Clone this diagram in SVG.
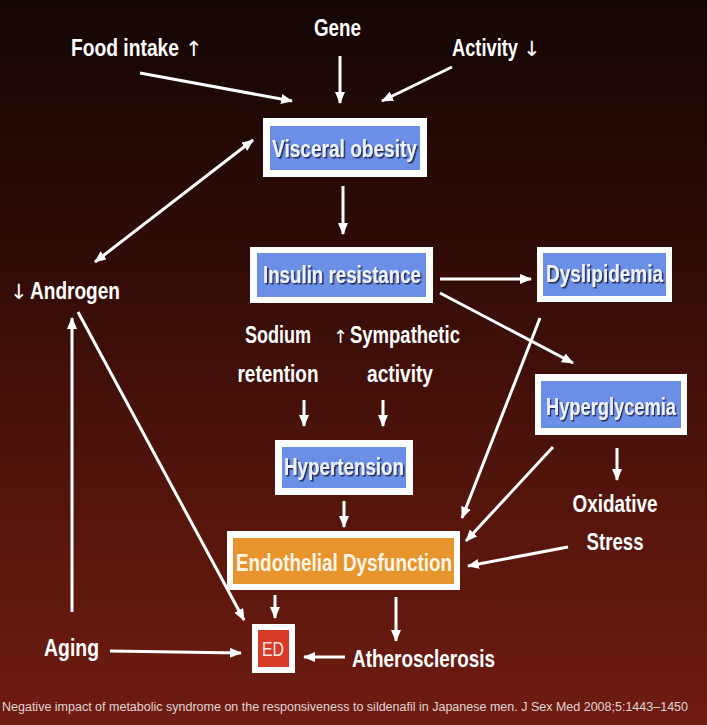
<svg xmlns="http://www.w3.org/2000/svg" width="707" height="725" viewBox="0 0 707 725">
<defs>
<linearGradient id="bg" x1="0" y1="0" x2="0" y2="1">
<stop offset="0" stop-color="#140604"/>
<stop offset="0.35" stop-color="#300b07"/>
<stop offset="0.7" stop-color="#55150b"/>
<stop offset="1" stop-color="#701c12"/>
</linearGradient>
<marker id="ah" viewBox="0 0 12 10" refX="11" refY="5" markerWidth="12" markerHeight="10" markerUnits="userSpaceOnUse" orient="auto-start-reverse">
<path d="M0,0 L12,5 L0,10 Z" fill="#ffffff"/>
</marker>
<filter id="sh" x="-10%" y="-30%" width="120%" height="160%">
<feDropShadow dx="1.5" dy="1.5" stdDeviation="0.5" flood-color="#1a1a40" flood-opacity="0.9"/>
</filter>
</defs>
<style>
.t{font-family:'Liberation Sans Narrow','Liberation Sans',Arial,sans-serif;font-weight:bold;font-size:24px;fill:#ffffff;}
.bt{font-family:'Liberation Sans Narrow','Liberation Sans',Arial,sans-serif;font-weight:bold;font-size:23px;fill:#eef2ff;filter:url(#sh);}
.ar{font-family:'DejaVu Sans',sans-serif;font-weight:normal;font-size:21px;fill:#ffffff;}
.outer{fill:#ffffff;}
.blue{fill:#6b8fe6;}
.orange{fill:#e8942c;}
.red{fill:#d83a28;}
.c{stroke:#ffffff;stroke-width:3;fill:none;marker-end:url(#ah);}
.cite{font-family:'Liberation Sans Narrow','Liberation Sans',Arial,sans-serif;font-size:12.5px;fill:#e0d6d4;}
</style>
<rect x="0" y="0" width="707" height="725" fill="url(#bg)"/>

<g id="connectors">
<line class="c" x1="140" y1="73" x2="292" y2="101"/>
<line class="c" x1="340" y1="56" x2="340" y2="103"/>
<line class="c" x1="452" y1="67" x2="382" y2="101"/>
<line class="c" x1="343" y1="186" x2="343" y2="234"/>
<line class="c" x1="95" y1="262" x2="253" y2="140" style="marker-start:url(#ah)"/>
<line class="c" x1="78" y1="312" x2="244" y2="620"/>
<line class="c" x1="72" y1="612" x2="72" y2="318"/>
<line class="c" x1="110" y1="651" x2="241" y2="653"/>
<line class="c" x1="345" y1="657" x2="304" y2="657"/>
<line class="c" x1="396" y1="597" x2="396" y2="641"/>
<line class="c" x1="275" y1="595" x2="275" y2="618"/>
<line class="c" x1="440" y1="279" x2="531" y2="279"/>
<line class="c" x1="440" y1="293" x2="573" y2="363"/>
<line class="c" x1="540" y1="318" x2="462" y2="518"/>
<line class="c" x1="553" y1="447" x2="466" y2="541"/>
<line class="c" x1="568" y1="547" x2="468" y2="566"/>
<line class="c" x1="617" y1="448" x2="617" y2="480"/>
<line class="c" x1="304" y1="400" x2="304" y2="426"/>
<line class="c" x1="383" y1="400" x2="383" y2="426"/>
<line class="c" x1="344" y1="501" x2="344" y2="527"/>
</g>

<g id="food">
<text class="t" transform="translate(71,56) scale(0.8,1)" x="0" y="0" textLength="135" lengthAdjust="spacingAndGlyphs">Food intake</text>
<text class="ar" x="185" y="56">↑</text>
</g>
<g id="gene"><text class="t" x="314" y="36" textLength="47" lengthAdjust="spacingAndGlyphs">Gene</text></g>
<g id="activity">
<text class="t" transform="translate(452,56) scale(0.7586,1)" x="0" y="0" textLength="87" lengthAdjust="spacingAndGlyphs">Activity</text>
<text class="ar" x="523" y="56">↓</text>
</g>

<g id="visceral">
<rect class="outer" x="263" y="118" width="164" height="59"/>
<rect class="blue" x="270" y="126" width="150" height="44"/>
<text class="bt" x="272" y="157" textLength="145" lengthAdjust="spacingAndGlyphs">Visceral obesity</text>
</g>

<g id="insulin">
<rect class="outer" x="250" y="247" width="183" height="56"/>
<rect class="blue" x="257" y="253" width="169" height="44"/>
<text class="bt" x="263" y="283" textLength="158" lengthAdjust="spacingAndGlyphs">Insulin resistance</text>
</g>

<g id="dyslipidemia">
<rect class="outer" x="537" y="247" width="135" height="55"/>
<rect class="blue" x="543" y="253" width="123" height="43"/>
<text class="bt" x="546" y="282" textLength="117" lengthAdjust="spacingAndGlyphs">Dyslipidemia</text>
</g>

<g id="androgen">
<text class="ar" x="10" y="299">↓</text>
<text class="t" x="30" y="299" textLength="90" lengthAdjust="spacingAndGlyphs">Androgen</text>
</g>

<g id="sodium">
<text class="t" x="278" y="343" text-anchor="middle" textLength="66" lengthAdjust="spacingAndGlyphs">Sodium</text>
<text class="t" x="278" y="382" text-anchor="middle" textLength="81" lengthAdjust="spacingAndGlyphs">retention</text>
</g>

<g id="sympathetic">
<text class="ar" x="333" y="343" style="font-size:18px">↑</text>
<text class="t" transform="translate(350,343) scale(0.771,1)" x="0" y="0" textLength="142.6" lengthAdjust="spacingAndGlyphs">Sympathetic</text>
<text class="t" x="400" y="382" text-anchor="middle" textLength="66" lengthAdjust="spacingAndGlyphs">activity</text>
</g>

<g id="hyperglycemia">
<rect class="outer" x="535" y="374" width="152" height="61"/>
<rect class="blue" x="541" y="381" width="140" height="47"/>
<text class="bt" transform="translate(546,415) scale(0.7956,1)" x="0" y="0" textLength="163.4" lengthAdjust="spacingAndGlyphs">Hyperglycemia</text>
</g>

<g id="hypertension">
<rect class="outer" x="275" y="440" width="138" height="55"/>
<rect class="blue" x="282" y="447" width="124" height="41"/>
<text class="bt" x="284" y="475" textLength="120" lengthAdjust="spacingAndGlyphs">Hypertension</text>
</g>

<g id="oxidative">
<text class="t" x="615" y="512" text-anchor="middle" textLength="85" lengthAdjust="spacingAndGlyphs">Oxidative</text>
<text class="t" x="615" y="550" text-anchor="middle" textLength="57" lengthAdjust="spacingAndGlyphs">Stress</text>
</g>

<g id="endothelial">
<rect class="outer" x="227" y="531" width="233" height="59"/>
<rect class="orange" x="233" y="538" width="221" height="46"/>
<text class="t" x="236" y="571" textLength="216" lengthAdjust="spacingAndGlyphs" style="font-size:23px;fill:#fff6e8">Endothelial Dysfunction</text>
</g>

<g id="ed">
<rect class="outer" x="252" y="624" width="43" height="49"/>
<rect class="red" x="258" y="630" width="31" height="37"/>
<text class="t" x="273" y="656" text-anchor="middle" textLength="22" lengthAdjust="spacingAndGlyphs" style="font-weight:normal;font-size:21px;fill:#f5e6e0">ED</text>
</g>

<g id="aging"><text class="t" x="44" y="656" textLength="55" lengthAdjust="spacingAndGlyphs">Aging</text></g>
<g id="atherosclerosis"><text class="t" x="352" y="667" textLength="143" lengthAdjust="spacingAndGlyphs">Atherosclerosis</text></g>

<g id="citation"><text class="cite" x="2" y="711" textLength="686" lengthAdjust="spacingAndGlyphs">Negative impact of metabolic syndrome on the responsiveness to sildenafil in Japanese men. J Sex Med 2008;5:1443–1450</text></g>
</svg>
